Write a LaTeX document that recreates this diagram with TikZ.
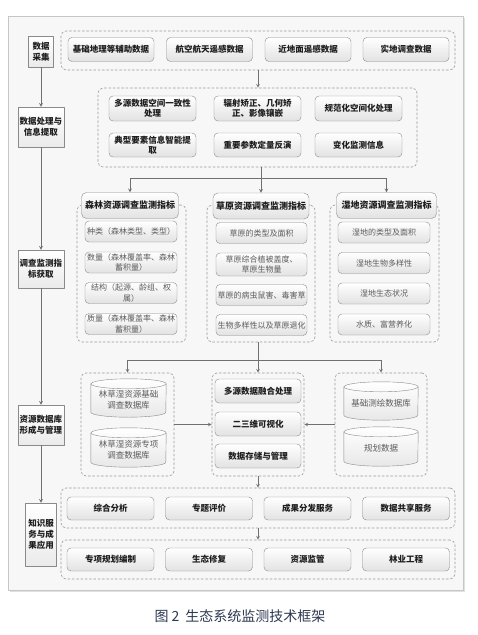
\documentclass[tikz,border=0pt]{standalone}
\usepackage{fontspec}
\setmainfont{Noto Sans CJK SC}

\definecolor{framefill}{HTML}{F7F7F7}
\definecolor{framegray}{HTML}{C6C6C6}
\definecolor{boxline}{HTML}{8A8A8A}
\definecolor{boxshade}{HTML}{E2E2E2}
\definecolor{dashgray}{HTML}{9A9A9A}
\definecolor{linegray}{HTML}{707070}
\definecolor{txtdark}{HTML}{1E1E1E}
\definecolor{txtgray}{HTML}{5C5C5C}
\definecolor{capblue}{HTML}{2E3850}

\tikzset{
  frame/.style={draw=framegray, fill=framefill},
  grp/.style={draw=dashgray, dash pattern=on 2.5pt off 1.8pt, rounded corners=5pt, line width=.6pt},
  box/.style={draw=boxline, rounded corners=4pt, top color=white, bottom color=boxshade, text=txtdark,
    font=\bfseries\fontsize{8.5}{10.5}\selectfont, align=center, inner sep=1pt, minimum height=24},
  head/.style={box, font=\bfseries\fontsize{9}{11}\selectfont, minimum height=26, rounded corners=5pt},
  item/.style={draw=boxline, rounded corners=4pt, top color=white, bottom color=boxshade, text=txtgray,
    font=\fontsize{8}{10.5}\selectfont, align=center, inner sep=.5pt, minimum height=21},
  side/.style={draw=boxline, top color=white, bottom color=boxshade!70, text=txtdark,
    font=\bfseries\fontsize{8.5}{11}\selectfont, align=center, inner sep=1pt},
  cyl/.style={text=txtgray, font=\fontsize{8.5}{11}\selectfont, align=center, inner sep=0pt},
  conn/.style={draw=linegray, line width=.7pt},
}

\begin{document}
\begin{tikzpicture}[x=1pt, y=-1pt, >=stealth, line join=round]
	\useasboundingbox (0,0) rectangle (478,635);
	\fill[framegray!55] (10,18) rectangle (465,592);
	\draw[frame] (8,16) rectangle (463,590);

	% left column
	\node[side, minimum width=25, minimum height=31] (s1) at (41,51.5) {数据\\采集};
	\node[side, minimum width=46, minimum height=40] (s2) at (41,127) {数据处理与\\信息提取};
	\node[side, minimum width=46, minimum height=38] (s3) at (41,269) {调查监测指\\标获取};
	\node[side, minimum width=46, minimum height=40] (s4) at (41,425) {资源数据库\\形成与管理};
	\node[side, minimum width=31, minimum height=63] (s5) at (41,534.5) {知识服\\务与成\\果应用};
	\draw[conn,->] (s1) -- (s2);
	\draw[conn,->] (s2) -- (s3);
	\draw[conn,->] (s3) -- (s4);
	\draw[conn,->] (s4) -- (s5);

	% data collection
	\node[grp, minimum width=394, minimum height=39] (g1) at (258,50.5) {};
	\node[box, minimum width=86] (a1) at (111,49.5) {基础地理等辅助数据};
	\node[box, minimum width=86] (a2) at (209.5,49.5) {航空航天遥感数据};
	\node[box, minimum width=86] (a3) at (308,49.5) {近地面遥感数据};
	\node[box, minimum width=86] (a4) at (406,49.5) {实地调查数据};

	% processing
	\node[grp, minimum width=319, minimum height=79] (g2) at (257.5,127.5) {};
	\node[box, minimum width=87, minimum height=25] (p1) at (152.5,108.5) {多源数据空间一致性\\处理};
	\node[box, minimum width=87, minimum height=25] (p2) at (257.5,108.5) {辐射矫正、几何矫\\正、影像镶嵌};
	\node[box, minimum width=87, minimum height=25] (p3) at (358.5,108.5) {规范化空间化处理};
	\node[box, minimum width=87] (p4) at (152.5,145) {典型要素信息智能提\\取};
	\node[box, minimum width=87] (p5) at (257.5,145) {重要参数定量反演};
	\node[box, minimum width=87] (p6) at (358.5,145) {变化监测信息};
	\draw[conn,->] (g1.south) -- (g1.south |- g2.north);

	% indicators
	\node[grp, minimum width=109, minimum height=137] (c1) at (131.5,273.5) {};
	\node[grp, minimum width=108, minimum height=137] (c2) at (261,273.5) {};
	\node[grp, minimum width=109, minimum height=137] (c3) at (384.5,273.5) {};
	\node[head, minimum width=97] (h1) at (130,205.5) {森林资源调查监测指标};
	\node[head, minimum width=96] (h2) at (261,206) {草原资源调查监测指标};
	\node[head, minimum width=100] (h3) at (386.5,205.5) {湿地资源调查监测指标};

	\node[item, minimum width=92] (f1) at (131,231.5) {种类（森林类型、类型）};
	\node[item, minimum width=92] (f2) at (131,262.5) {数量（森林覆盖率、森林\\蓄积量）};
	\node[item, minimum width=92] (f3) at (131,293) {结构（起源、龄组、权\\属）};
	\node[item, minimum width=92] (f4) at (131,324) {质量（森林覆盖率、森林\\蓄积量）};

	\node[item, minimum width=91] (q1) at (261.5,233) {草原的类型及面积};
	\node[item, minimum width=91, minimum height=23] (q2) at (261.5,264.5) {草原综合植被盖度、\\草原生物量};
	\node[item, minimum width=91] (q3) at (261.5,295) {草原的病虫鼠害、毒害草};
	\node[item, minimum width=91] (q4) at (261.5,325) {生物多样性以及草原退化};

	\node[item, minimum width=92] (w1) at (384,232.5) {湿地的类型及面积};
	\node[item, minimum width=92] (w2) at (384,263) {湿地生物多样性};
	\node[item, minimum width=92] (w3) at (384,293.5) {湿地生态状况};
	\node[item, minimum width=92] (w4) at (384,324.5) {水质、富营养化};

	\coordinate (k1) at (261,178);
	\draw[conn] (g2.south -| k1) -- (k1);
	\draw[conn] (h1.north |- k1) -- (h3.north |- k1);
	\draw[conn,->] (h1.north |- k1) -- (h1.north);
	\draw[conn,->] (k1) -- (k1 |- h2.north);
	\draw[conn,->] (h3.north |- k1) -- (h3.north);

	% databases
	\node[grp, minimum width=93, minimum height=103] (d1) at (127.5,424.5) {};
	\node[grp, minimum width=92, minimum height=103] (d2) at (258,424.5) {};
	\node[grp, minimum width=92, minimum height=103] (d3) at (381,424.5) {};

	\node[cyl, minimum width=75, minimum height=38] (l1) at (128.5,398) {};
	\node[cyl, minimum width=75, minimum height=39] (l2) at (128.5,447.5) {};
	\node[cyl, minimum width=74, minimum height=38] (r1) at (381,401) {};
	\node[cyl, minimum width=74, minimum height=39] (r2) at (381,446.5) {};
	\foreach \n/\r in {l1/37.5, l2/37.5, r1/37, r2/37}{
		\draw[boxline, top color=white, bottom color=boxshade!80] ([yshift=-5pt]\n.north west) -- ([yshift=5pt]\n.south west)
			arc[start angle=180, end angle=360, x radius=\r pt, y radius=5pt] -- ([yshift=-5pt]\n.north east)
			arc[start angle=0, end angle=180, x radius=\r pt, y radius=5pt] -- cycle;
		\draw[boxline] ([yshift=-5pt]\n.north west) arc[start angle=180, end angle=360, x radius=\r pt, y radius=5pt];
	}
	\node[cyl] at ([yshift=-2pt]l1.center) {林草湿资源基础\\调查数据库};
	\node[cyl] at ([yshift=-2pt]l2.center) {林草湿资源专项\\调查数据库};
	\node[cyl] at ([yshift=-2pt]r1.center) {基础测绘数据库};
	\node[cyl] at ([yshift=-2pt]r2.center) {规划数据};

	\node[box, minimum width=86] (m1) at (258,391) {多源数据融合处理};
	\node[box, minimum width=86] (m2) at (258,424) {二三维可视化};
	\node[box, minimum width=86] (m3) at (258,456) {数据存储与管理};

	\coordinate (k2) at (258,360);
	\draw[conn] (k2 |- c2.south) -- (k2);
	\draw[conn] (d1.north |- k2) -- (d3.north |- k2);
	\draw[conn,->] (d1.north |- k2) -- (d1.north);
	\draw[conn,->] (k2) -- (d2.north);
	\draw[conn,->] (d3.north |- k2) -- (d3.north);
	\draw[conn,->] (d1) -- (d2);
	\draw[conn,->] (d3) -- (d2);

	% services and applications
	\node[grp, minimum width=394, minimum height=40] (e1) at (258,508) {};
	\node[box, minimum width=87, minimum height=23] (v1) at (110.5,508.5) {综合分析};
	\node[box, minimum width=87, minimum height=23] (v2) at (209,508.5) {专题评价};
	\node[box, minimum width=87, minimum height=23] (v3) at (307.5,508.5) {成果分发服务};
	\node[box, minimum width=87, minimum height=23] (v4) at (406,508.5) {数据共享服务};

	\node[grp, minimum width=394, minimum height=39] (e2) at (258,559.5) {};
	\node[box, minimum width=87, minimum height=23] (u1) at (110.5,559.5) {专项规划编制};
	\node[box, minimum width=87, minimum height=23] (u2) at (209,559.5) {生态修复};
	\node[box, minimum width=87, minimum height=23] (u3) at (307.5,559.5) {资源监管};
	\node[box, minimum width=87, minimum height=23] (u4) at (406,559.5) {林业工程};

	\draw[conn,->] (d2) -- (e1);
	\draw[conn,->] (e1) -- (e2);

	\node[text=capblue, font=\fontsize{14}{16}\selectfont] (cap) at (240,616) {图~2\hspace{6pt}生态系统监测技术框架};
\end{tikzpicture}
\end{document}
